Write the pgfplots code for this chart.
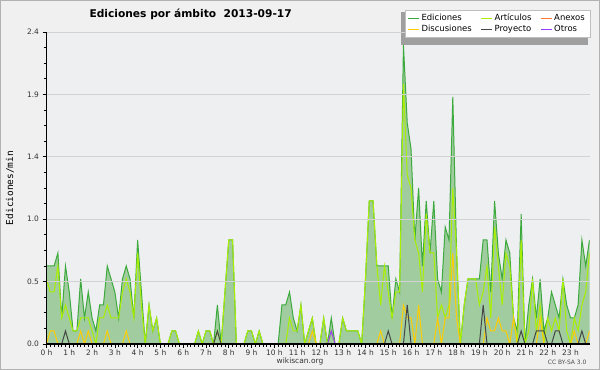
\documentclass[border=0pt]{standalone}
\usepackage{fontspec}
\setmainfont{DejaVu Sans}
\newfontfamily\monofont{DejaVu Sans Mono}
\usepackage{pgfplots}
\usepackage{pgfplotstable}
\pgfplotsset{compat=1.18}

\definecolor{bgc}{RGB}{240,240,240}
\definecolor{plotbg}{RGB}{238,239,241}
\definecolor{eline}{RGB}{60,170,60}
\definecolor{efill}{RGB}{160,204,160}
\definecolor{aline}{RGB}{170,238,0}
\definecolor{dline}{RGB}{255,204,0}
\definecolor{nline}{RGB}{255,120,50}
\definecolor{pline}{RGB}{70,70,70}
\definecolor{oline}{RGB}{150,60,255}

\pgfplotstableread{
i E A N D P O
0 0.6 0.5 0 0 0 0
1 0.6 0.4 0 0.1 0 0
2 0.6 0.4 0 0.1 0 0
3 0.7 0.6 0 0 0 0
4 0.2 0.2 0 0 0 0
5 0.6 0.3 0 0 0.1 0
6 0.4 0.2 0 0 0 0
7 0.1 0.1 0 0 0 0
8 0.1 0.1 0 0 0 0
9 0.5 0.2 0 0.1 0 0
10 0.2 0.2 0 0 0 0
11 0.4 0.2 0 0.1 0 0
12 0.2 0.1 0 0 0 0
13 0.1 0 0 0 0 0
14 0.3 0.2 0 0 0 0
15 0.3 0.2 0 0 0 0
16 0.6 0.3 0 0.1 0 0
17 0.5 0.2 0 0 0 0
18 0.4 0.2 0 0 0 0
19 0.2 0.2 0 0 0 0
20 0.5 0.4 0 0 0 0
21 0.6 0.5 0 0.1 0 0
22 0.5 0.4 0 0 0 0
23 0.2 0.2 0 0 0 0
24 0.8 0.7 0 0 0 0
25 0.4 0.3 0 0 0 0
26 0 0 0 0 0 0
27 0.3 0.3 0 0 0 0
28 0.1 0.1 0 0 0 0
29 0.2 0.2 0 0 0 0
30 0 0 0 0 0 0
31 0 0 0 0 0 0
32 0 0 0 0 0 0
33 0.1 0.1 0 0 0 0
34 0.1 0.1 0 0 0 0
35 0 0 0 0 0 0
36 0 0 0 0 0 0
37 0 0 0 0 0 0
38 0 0 0 0 0 0
39 0 0 0 0 0 0
40 0.1 0.1 0 0 0 0
41 0 0 0 0 0 0
42 0.1 0.1 0 0 0 0
43 0.1 0.1 0 0 0 0
44 0 0 0 0 0 0
45 0.3 0.1 0 0 0.1 0
46 0 0 0 0 0 0
47 0.4 0.4 0 0 0 0
48 0.8 0.8 0 0 0 0
49 0.8 0.8 0 0 0 0
50 0 0 0 0 0 0
51 0 0 0 0 0 0
52 0 0 0 0 0 0
53 0.1 0.1 0 0 0 0
54 0.1 0.1 0 0 0 0
55 0 0 0 0 0 0
56 0.1 0.1 0 0 0 0
57 0 0 0 0 0 0
58 0 0 0 0 0 0
59 0 0 0 0 0 0
60 0 0 0 0 0 0
61 0 0 0 0 0 0
62 0.3 0 0 0 0 0
63 0.3 0 0 0 0 0
64 0.4 0.2 0 0 0 0
65 0.2 0.1 0 0 0 0
66 0.1 0.1 0 0 0 0
67 0.3 0.3 0 0 0 0
68 0 0 0 0 0 0
69 0.1 0.1 0 0 0 0
70 0.2 0.2 0 0.1 0 0
71 0 0 0 0 0 0
72 0 0 0 0 0 0
73 0.2 0.2 0 0 0 0
74 0 0 0 0 0 0
75 0.2 0.1 0 0 0 0.1
76 0 0 0 0 0 0
77 0 0 0 0 0 0
78 0.2 0.2 0 0 0 0
79 0.1 0.1 0 0 0 0
80 0.1 0.1 0 0 0 0
81 0.1 0.1 0 0 0 0
82 0.1 0.1 0 0 0 0
83 0 0 0 0 0 0
84 0.5 0.5 0 0 0 0
85 1.1 1.1 0 0 0 0
86 1.1 1.1 0 0 0 0
87 0.6 0.6 0 0 0 0
88 0.6 0.3 0 0.1 0 0
89 0.6 0.6 0 0 0 0
90 0.6 0.4 0 0 0.1 0
91 0.2 0.2 0 0 0 0
92 0.5 0.4 0 0 0 0
93 0.4 0.4 0 0 0 0
94 2.3 2.0 0 0.3 0 0
95 1.7 1.3 0 0.2 0.3 0
96 1.5 1.2 0 0.2 0 0
97 0.8 0.8 0 0 0 0
98 1.2 0.7 0 0.3 0 0
99 0.6 0.4 0 0 0 0
100 1.1 1.0 0 0 0 0
101 0.7 0.7 0 0 0 0
102 1.1 0.7 0 0 0 0
103 0.5 0.2 0 0.2 0 0
104 0.4 0.3 0 0 0 0
105 0.9 0.2 0 0.2 0 0
106 0.8 0.3 0 0.2 0 0
107 1.9 1.2 0 0.7 0 0
108 0.7 0.7 0 0.2 0 0
109 0 0 0 0 0 0
110 0.3 0.3 0 0 0 0
111 0.5 0.5 0 0 0 0
112 0.5 0.5 0 0 0 0
113 0.5 0.5 0 0 0 0
114 0.5 0.3 0 0 0 0
115 0.8 0.4 0 0 0.3 0
116 0.8 0.6 0 0.2 0 0
117 0.4 0.2 0 0.1 0 0
118 1.1 0.9 0 0.1 0 0
119 0.7 0.6 0 0.2 0 0
120 0.5 0.3 0 0.1 0 0
121 0.8 0.7 0 0.1 0 0
122 0.7 0.6 0 0 0 0
123 0.2 0.2 0 0.2 0 0
124 0.1 0 0 0 0 0
125 1.0 0.8 0 0 0.1 0
126 0 0 0 0 0 0
127 0.3 0.1 0 0 0 0
128 0.5 0.5 0 0 0 0
129 0.2 0.1 0 0 0.1 0
130 0.5 0.3 0 0.2 0.1 0
131 0.1 0 0 0 0.1 0
132 0.2 0.2 0 0 0 0
133 0.4 0.1 0 0 0 0
134 0.3 0.2 0 0 0.1 0
135 0.2 0.1 0 0 0.1 0
136 0.5 0.5 0 0 0 0
137 0.3 0.1 0 0 0 0
138 0.2 0 0 0 0 0
139 0.2 0.2 0 0.1 0 0
140 0.3 0.1 0 0 0 0
141 0.8 0.3 0 0 0.1 0
142 0.6 0.4 0 0 0 0
143 0.8 0.7 0 0.1 0 0
}\data

\begin{document}
\begin{tikzpicture}
\path[use as bounding box] (0,0) rectangle (600bp,370bp);
\fill[bgc] (0,0) rectangle (600bp,370bp);
\draw[gray!60, line width=1bp] (0.5bp,0.5bp) rectangle (599.5bp,369.5bp);
\fill[plotbg] (46.5bp,26bp) rectangle (589.5bp,338bp);
% legend shadow
\fill[gray!75] (400.5bp,325bp) rectangle (587.5bp,358bp);
\begin{axis}[
  at={(46.5bp,26bp)}, anchor=south west,
  scale only axis, width=543bp, height=312bp,
  xmin=0, xmax=143, ymin=0, ymax=2.4,
  axis x line*=bottom, axis y line*=left,
  x axis line style={line width=1.6bp},
  y axis line style={line width=0.8bp},
  xtick={0,6,...,138},
  xticklabels={0 h,1 h,2 h,3 h,4 h,5 h,6 h,7 h,8 h,9 h,10 h,11 h,12 h,13 h,14 h,15 h,16 h,17 h,18 h,19 h,20 h,21 h,22 h,23 h},
  minor x tick num=5,
  ytick={0,0.48,0.96,1.44,1.92,2.4},
  minor y tick num=3,
  yticklabel style={/pgf/number format/fixed, /pgf/number format/fixed zerofill, /pgf/number format/precision=1},
  /pgf/number format/assume math mode=true,
  ticklabel style={font=\fontsize{7.5}{8}\selectfont, text=black!80},
  xticklabel style={yshift=1.5bp},
  tick align=outside,
  major tick length=4bp, minor tick length=3bp,
  tick style={black, line width=0.6bp},
  ymajorgrids, major grid style={gray!35, line width=0.8bp},
  axis on top,
  legend columns=3,
  legend cell align=left,
  legend style={at={(1,1)}, anchor=north east, xshift=0.5bp, yshift=22bp,
    draw=gray!50, fill=white, font=\fontsize{8.5}{9}\selectfont,
    /tikz/every even column/.append style={column sep=7bp},
    inner xsep=3bp, inner ysep=2bp, row sep=-1.5bp},
  legend image code/.code={\draw[#1, line width=0.8bp] (0bp,0bp) -- (11bp,0bp);},
]
\addplot[draw=none, fill=efill, forget plot] table[x=i, y=E] {\data} \closedcycle;
\addplot[eline, line width=1bp] table[x=i, y=E] {\data};
\addlegendentry{Ediciones}
\addplot[aline, line width=1bp] table[x=i, y=A] {\data};
\addlegendentry{Artículos}
\addplot[nline, line width=1bp] table[x=i, y=N] {\data};
\addlegendentry{Anexos}
\addplot[dline, line width=1bp] table[x=i, y=D] {\data};
\addlegendentry{Discusiones}
\addplot[pline, line width=1bp] table[x=i, y=P] {\data};
\addlegendentry{Proyecto}
\addplot[oline, line width=1bp] table[x=i, y=O] {\data};
\addlegendentry{Otros}
\end{axis}
\node[anchor=west, font=\bfseries\fontsize{10.7}{12}\selectfont] at (86bp,356bp) {Ediciones por ámbito\ \ 2013-09-17};
\node[rotate=90, font=\monofont\fontsize{9.5}{10}\selectfont] at (10bp,182bp) {Ediciones/min};
\node[font=\fontsize{7.5}{8}\selectfont, text=black!80] at (300bp,9bp) {wikiscan.org};
\node[anchor=east, font=\fontsize{6}{7}\selectfont, text=black!70] at (590bp,8bp) {CC BY-SA 3.0};
\end{tikzpicture}
\end{document}
